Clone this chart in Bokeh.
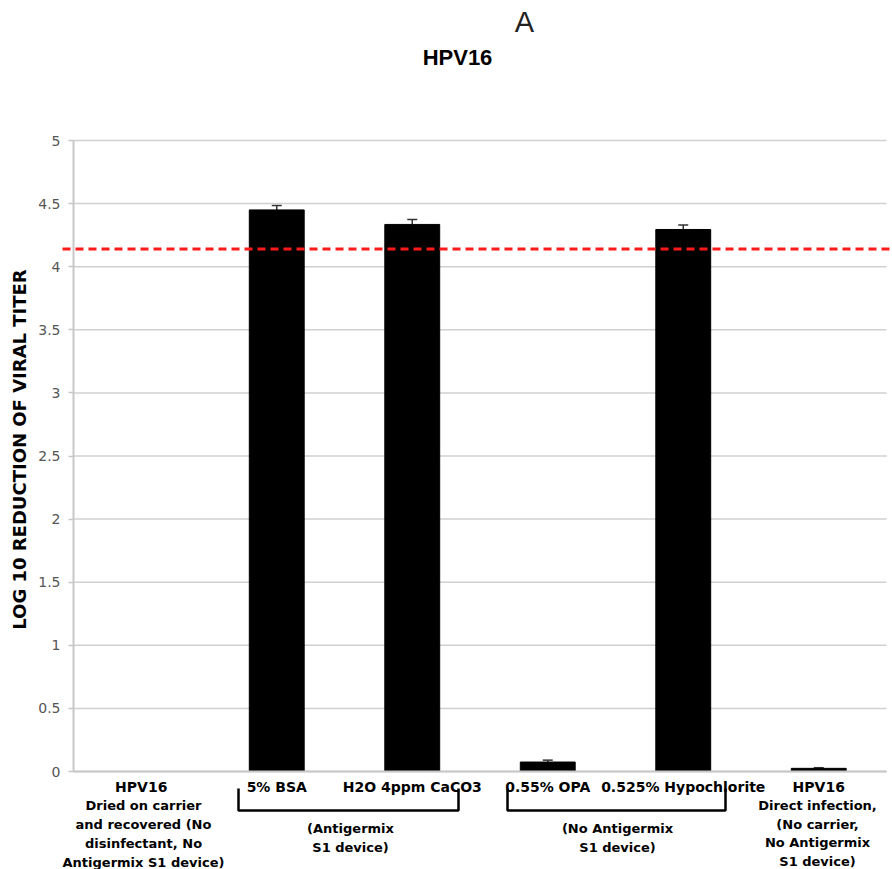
import math
from bokeh.plotting import figure
from bokeh.models import Range1d, FixedTicker, CustomJSTickFormatter, ColumnDataSource, Whisker, TeeHead
from bokeh.core.properties import value
from bokeh.embed import file_html
from bokeh.resources import INLINE

# ---------------- data ----------------
categories = ["HPV16", "5% BSA", "H2O 4ppm CaCO3", "0.55% OPA", "0.525% Hypochlorite", "HPV16"]
log_reduction = [0.0, 4.45, 4.335, 0.075, 4.295, 0.025]
error_up = [0.0, 0.035, 0.04, 0.015, 0.035, 0.005]
threshold = 4.14
y_ticks = [0, 0.5, 1, 1.5, 2, 2.5, 3, 3.5, 4, 4.5, 5]
y_label = "LOG 10 REDUCTION OF VIRAL TITER"

note_left = ["Dried on carrier", "and recovered (No", "disinfectant, No", "Antigermix S1 device)"]
note_group1 = ["(Antigermix", "S1 device)"]
note_group2 = ["(No Antigermix", "S1 device)"]
note_right = ["Direct infection,", "(No carrier,", "No Antigermix", "S1 device)"]

# ---------------- layout helpers ----------------
W, H = 892, 869
AXIS_PX, PLOT_RIGHT_PX = 73, 886
Y0_PX, PX_PER_Y = 771.0, 126.2
N = len(categories)
PX_PER_X = (PLOT_RIGHT_PX - AXIS_PX) / N


def dy(py):
    return (Y0_PX - py) / PX_PER_Y


def dx(px):
    return 0.5 + (px - AXIS_PX) / PX_PER_X


x_pos = list(range(1, N + 1))

p = figure(width=W, height=H, title=None,
           x_range=Range1d(dx(0), dx(W)), y_range=Range1d(dy(H), dy(0)),
           output_backend="svg", toolbar_location=None,
           min_border_left=0, min_border_right=0, min_border_top=0, min_border_bottom=0)
p.outline_line_color = None
p.background_fill_color = "white"
p.border_fill_color = "white"
p.xgrid.visible = False
p.ygrid.visible = False

# horizontal grid lines at the y ticks
p.segment(x0=[0.5] * len(y_ticks), x1=[N + 0.5] * len(y_ticks), y0=y_ticks, y1=y_ticks,
          line_color="#d0d0d0", line_width=1.5)

# y axis (placed at x = 0.5)
yt = FixedTicker(ticks=y_ticks)
p.yaxis.ticker = yt
p.yaxis.fixed_location = 0.5
p.yaxis.bounds = (0, 5)
p.yaxis.formatter = CustomJSTickFormatter(code="return String(tick)")
p.yaxis.major_label_text_font = "DejaVu Sans"
p.yaxis.major_label_text_font_size = "14px"
p.yaxis.major_label_text_color = "#555555"
p.yaxis.axis_line_color = "#c8c8c8"
p.yaxis.axis_line_width = 2
p.yaxis.major_tick_line_color = "#c8c8c8"
p.yaxis.major_tick_line_width = 1.5
p.yaxis.major_tick_out = 5
p.yaxis.major_tick_in = 0
p.yaxis.minor_tick_line_color = None
p.yaxis.major_label_standoff = 8

# x axis (category labels) placed at y = 0
p.xaxis.ticker = FixedTicker(ticks=x_pos)
p.xaxis.major_label_overrides = {x: c for x, c in zip(x_pos, categories)}
p.xaxis.fixed_location = 0
p.xaxis.bounds = (0.5, N + 0.5)
p.xaxis.axis_line_color = "#c8c8c8"
p.xaxis.axis_line_width = 2
p.xaxis.major_tick_line_color = None
p.xaxis.minor_tick_line_color = None
p.xaxis.major_label_text_font = "DejaVu Sans"
p.xaxis.major_label_text_font_style = "bold"
p.xaxis.major_label_text_font_size = "14px"
p.xaxis.major_label_text_color = "black"
p.xaxis.major_label_standoff = 1

# bars
src = ColumnDataSource(dict(x=x_pos, top=log_reduction))
p.vbar(x="x", top="top", width=0.405, source=src, fill_color="black", line_color="black")

# error bars (upward only)
ex = [x for x, e in zip(x_pos, error_up) if e > 0]
elo = [v for v, e in zip(log_reduction, error_up) if e > 0]
ehi = [v + e for v, e in zip(log_reduction, error_up) if e > 0]
esrc = ColumnDataSource(dict(x=ex, lower=elo, upper=ehi))
p.add_layout(Whisker(source=esrc, base="x", lower="lower", upper="upper",
                     line_color="#333333", line_width=1.5,
                     upper_head=TeeHead(size=10, line_color="#333333", line_width=1.5),
                     lower_head=None))

# threshold line
p.segment(x0=[dx(62)], x1=[dx(W)], y0=[threshold], y1=[threshold],
          line_color="#ff1a1a", line_width=3, line_dash="8 5")

# y axis title
p.text(x=[dx(19)], y=[dy(449)], text=[y_label], angle=math.pi / 2,
       text_font=value("DejaVu Sans"), text_font_style="bold", text_font_size="18px",
       text_align="center", text_baseline="middle", text_color="black")

# brackets below axis
b_top, b_bot = dy(788), dy(810)
brackets_x = [(dx(238), dx(458)), (dx(507), dx(725))]
p.multi_line(xs=[[a, a, b, b] for a, b in brackets_x],
             ys=[[b_top, b_bot, b_bot, b_top] for _ in brackets_x],
             line_color="black", line_width=2.5)


# notes
def notes(lines, cx, first_py, step):
    p.text(x=[dx(cx)] * len(lines), y=[dy(first_py + i * step) for i in range(len(lines))],
           text=lines, text_font=value("DejaVu Sans"), text_font_style="bold",
           text_font_size="13px", text_align="center", text_baseline="middle",
           text_color="black")


notes(note_left, 143, 805, 19)
notes(note_group1, 350, 828, 19)
notes(note_group2, 617, 828, 19)
notes(note_right, 817, 805, 18.7)

# titles
p.text(x=[dx(524)], y=[dy(21.5)], text=["A"], text_font=value("Liberation Sans"),
       text_font_size="29px", text_align="center", text_baseline="middle", text_color="#222222")
p.text(x=[dx(457)], y=[dy(57)], text=["HPV16"], text_font=value("Liberation Sans"),
       text_font_style="bold", text_font_size="22px", text_align="center",
       text_baseline="middle", text_color="black")

open("out.html", "w").write(file_html(p, INLINE))
